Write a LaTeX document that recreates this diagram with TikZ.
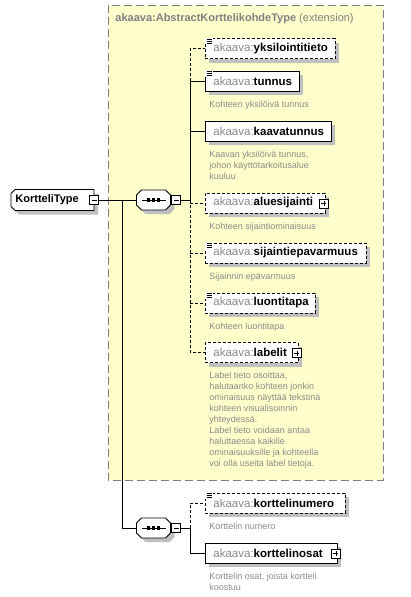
\documentclass[tikz,border=0pt]{standalone}
\usepackage{fontspec}
\setmainfont{Liberation Sans}
\usepackage{tikz}
\usetikzlibrary{shadows}

\definecolor{extfill}{HTML}{FFFFCC}
\definecolor{extline}{HTML}{808080}
\definecolor{shadowgray}{HTML}{C0C0C0}
\definecolor{nsgray}{HTML}{8A8A8A}
\definecolor{descgray}{HTML}{8A8A8A}

\newcommand{\ename}[1]{\mbox{{\color{nsgray}akaava:}\textbf{#1}}}

\begin{document}
\begin{tikzpicture}[x=1pt,y=-1pt,line width=0.9pt,
  boxshadow/.style={drop shadow={shadow xshift=4pt,shadow yshift=-4pt,fill=shadowgray,opacity=1}},
  elem/.style={draw,fill=white,boxshadow,anchor=west,minimum height=20pt,inner xsep=8pt,inner ysep=0pt,
    align=left,font=\fontsize{11.5}{13}\selectfont},
  optional/.style={dash pattern=on 3pt off 2pt},
  desc/.style={anchor=north west,inner sep=0pt,align=left,text=descgray,font=\fontsize{9}{11}\selectfont},
  minusbox/.style={draw,fill=white,minimum size=9pt,inner sep=0pt,
    path picture={\draw[line width=0.8pt] ([xshift=2pt]path picture bounding box.west) -- ([xshift=-2pt]path picture bounding box.east);}},
  plusbox/.style={minusbox,
    path picture={\draw[line width=0.8pt] ([xshift=2pt]path picture bounding box.west) -- ([xshift=-2pt]path picture bounding box.east);
                  \draw[line width=0.8pt] ([yshift=-2pt]path picture bounding box.north) -- ([yshift=2pt]path picture bounding box.south);}}]
\useasboundingbox (0,0) rectangle (410,597);

% extension box
\draw[fill=extfill,draw=extline,line width=1pt,dash pattern=on 8pt off 4pt] (108,5) rectangle (383,480);
\node[anchor=west,inner sep=0pt,text=extline,font=\fontsize{11}{13}\selectfont] (exttitle) at (115,19)
  {\textbf{akaava:AbstractKorttelikohdeType} (extension)};

% root type
\fill[shadowgray] (19,193.5) -- (98,193.5) -- (98,214.5) -- (19,214.5) -- (15,210.5) -- (15,197.5) -- cycle;
\draw[fill=white] (15,189.5) -- (94,189.5) -- (94,210.5) -- (15,210.5) -- (11,206.5) -- (11,193.5) -- cycle;
\node[anchor=west,inner sep=0pt,font=\fontsize{11}{13}\selectfont\bfseries] (root) at (15,200) {KortteliType};
\node[minusbox] (rootm) at (94,200) {};

% sequences
\foreach \y/\n in {200/seq1,528/seq2} {
  \fill[shadowgray] (145.5,\y-6) -- (169.5,\y-6) -- (174.5,\y-1) -- (174.5,\y+9) -- (169.5,\y+14)
    -- (145.5,\y+14) -- (140.5,\y+9) -- (140.5,\y-1) -- cycle;
  \draw[fill=white] (141.5,\y-10) -- (165.5,\y-10) -- (170.5,\y-5) -- (170.5,\y+5) -- (165.5,\y+10)
    -- (141.5,\y+10) -- (136.5,\y+5) -- (136.5,\y-5) -- cycle;
  \node[minimum width=34pt,minimum height=20pt,inner sep=0pt] (\n) at (153.5,\y) {};
  \node[minusbox] (\n m) at (176,\y) {};
  \draw[line width=0.8pt] ([xshift=-12pt]\n.center) -- ([xshift=12pt]\n.center);
  \foreach \d in {-5,0,5}
    \fill ([shift={(\d-1.6,-1.6)}]\n.center) rectangle ([shift={(\d+1.6,1.6)}]\n.center);
}

% elements of the extension
\node[elem,optional,text width=114pt] (yksilointitieto) at (205,48.5) {\ename{yksilointitieto}};
\node[elem,text width=78pt] (tunnus) at (205,81) {\ename{tunnus}};
\node[elem,text width=110pt] (kaavatunnus) at (205,131) {\ename{kaavatunnus}};
\node[elem,optional,text width=104pt] (aluesijainti) at (205,203) {\ename{aluesijainti}};
\node[elem,optional,text width=145pt] (sijaintiepavarmuus) at (205,253) {\ename{sijaintiepavarmuus}};
\node[elem,optional,text width=94pt] (luontitapa) at (205,303) {\ename{luontitapa}};
\node[elem,optional,text width=77pt] (labelit) at (205,352.5) {\ename{labelit}};

% elements of the second sequence
\node[elem,optional,text width=124pt] (korttelinumero) at (205,503) {\ename{korttelinumero}};
\node[elem,text width=116pt] (korttelinosat) at (205,553) {\ename{korttelinosat}};

% descriptions
\node[desc] (tunnus-d) at ([shift={(4,9)}]tunnus.south west) {Kohteen yksilöivä tunnus};
\node[desc] (kaavatunnus-d) at ([shift={(4,9)}]kaavatunnus.south west)
  {Kaavan yksilöivä tunnus,\\johon käyttötarkoitusalue\\kuuluu};
\node[desc] (aluesijainti-d) at ([shift={(4,9)}]aluesijainti.south west) {Kohteen sijaintiominaisuus};
\node[desc] (sijaintiepavarmuus-d) at ([shift={(4,9)}]sijaintiepavarmuus.south west) {Sijainnin epävarmuus};
\node[desc] (luontitapa-d) at ([shift={(4,9)}]luontitapa.south west) {Kohteen luontitapa};
\node[desc] (labelit-d) at ([shift={(4,9)}]labelit.south west)
  {Label tieto osoittaa,\\halutaanko kohteen jonkin\\ominaisuus näyttää tekstinä\\kohteen visualisoinnin\\yhteydessä.\\
   Label tieto voidaan antaa\\haluttaessa kaikille\\ominaisuuksille ja kohteella\\voi olla useita label tietoja.};
\node[desc] (korttelinumero-d) at ([shift={(4,9)}]korttelinumero.south west) {Korttelin numero};
\node[desc] (korttelinosat-d) at ([shift={(4,9)}]korttelinosat.south west) {Korttelin osat, joista kortteli\\koostuu};

% simple content marks
\foreach \e in {yksilointitieto,tunnus,sijaintiepavarmuus,luontitapa,korttelinumero} {
  \fill[white] ([shift={(-0.5,-0.5)}]\e.north west) rectangle ([shift={(7.5,6)}]\e.north west);
  \foreach \l in {1,3,5}
    \draw[line width=0.9pt] ([shift={(1.5,\l)}]\e.north west) -- ([shift={(7,\l)}]\e.north west);
}

% expand marks
\foreach \e in {aluesijainti,labelit,korttelinosat}
  \node[plusbox] (\e-p) at ([shift={(-2,0.5)}]\e.east) {};

% connectors
\coordinate (b1) at (122,200);
\coordinate (j1) at (190,200);
\coordinate (j2) at (190,528);
\draw (rootm.east) -- (seq1.west);
\draw (b1) |- (seq2.west);
\draw (seq1m.east) -- (j1) -- (j1 |- tunnus.west) -- (tunnus.west);
\draw (j1 |- kaavatunnus.west) -- (kaavatunnus.west);
\draw[optional] (j1 |- tunnus.west) -- (j1 |- yksilointitieto.west) -- (yksilointitieto.west);
\draw[optional] (j1) -- (j1 |- labelit.west) -- (labelit.west);
\foreach \e in {aluesijainti,sijaintiepavarmuus,luontitapa}
  \draw[optional] (j1 |- \e.west) -- (\e.west);
\draw (seq2m.east) -- (j2) -- (j2 |- korttelinosat.west) -- (korttelinosat.west);
\draw[optional] (j2) -- (j2 |- korttelinumero.west) -- (korttelinumero.west);
\end{tikzpicture}
\end{document}
